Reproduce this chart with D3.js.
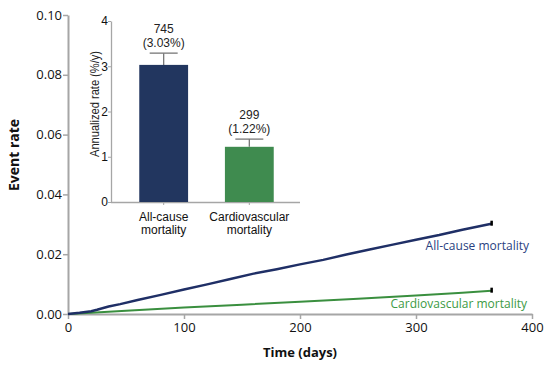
<!DOCTYPE html>
<html>
<head>
<meta charset="utf-8">
<script src="https://cdn.jsdelivr.net/npm/d3@7"></script>
<style>
  body { margin:0; background:#fff; }
  .main text { font-family:"Open Sans", "DejaVu Sans", sans-serif; }
  .inset text { font-family:"Liberation Sans", Arial, sans-serif; }
</style>
</head>
<body>
<div id="chart"></div>
<script>
// =====================================================================
// data
var allCause = [[0,0],[10,0.0004],[20,0.0009],[25,0.0014],[35,0.0025],[45,0.0033],[60,0.0047],
                [80,0.0064],[100,0.0082],[120,0.0099],[140,0.0117],[160,0.0135],[180,0.0150],
                [200,0.0166],[220,0.0181],[240,0.0199],[260,0.0216],[280,0.0232],[300,0.0248],
                [320,0.0264],[340,0.0282],[365,0.0302]];
var cvMortality = [[0,0],[20,0.0004],[50,0.0011],[100,0.0022],[150,0.0031],[200,0.0041],
                   [250,0.0051],[300,0.0062],[340,0.0071],[365,0.0078]];
var barCats = ["All-cause mortality", "Cardiovascular mortality"];
var barLabels = [["All-cause","mortality"], ["Cardiovascular","mortality"]];
var barValues = [3.03, 1.22];
var barErrors = [3.29, 1.39];
var barCounts = ["745", "299"];
var barPcts = ["(3.03%)", "(1.22%)"];
var xTicks = [0, 100, 200, 300, 400];
var yTicks = [0, 0.02, 0.04, 0.06, 0.08, 0.10];
var insetTicks = [0, 1, 2, 3, 4];
var blue = "#1f2f66", green = "#3a8f3f", barBlue = "#22365f", barGreen = "#3f8b4f", grey = "#a6a6a6";
// =====================================================================

var svg = d3.select("#chart").append("svg")
    .attr("width", 550).attr("height", 367);

var x = d3.scaleLinear().domain([0, 400]).range([68, 532]);
var y = d3.scaleLinear().domain([0, 0.10]).range([314, 15]);

var g = svg.append("g").attr("class", "main");

// y axis
var yAxis = g.append("g").attr("transform", "translate(68,0)")
    .call(d3.axisLeft(y).tickValues(yTicks).tickFormat(d3.format(".2f")).tickSize(5).tickSizeOuter(0));
// x axis
var xAxis = g.append("g").attr("transform", "translate(0,314)")
    .call(d3.axisBottom(x).tickValues(xTicks).tickSize(5).tickSizeOuter(0));

[yAxis, xAxis].forEach(function(a){
    a.select(".domain").attr("stroke", grey).attr("stroke-width", 2);
    a.selectAll(".tick line").attr("stroke", grey).attr("stroke-width", 1.5);
    a.selectAll(".tick text").attr("fill", "#111").style("font-size", "13px");
});
yAxis.selectAll(".tick text").attr("x", -6);
xAxis.selectAll(".tick text").attr("y", 9);

// axis titles
g.append("text").text("Time (days)")
    .attr("x", 300).attr("y", 357).attr("text-anchor", "middle")
    .style("font-size", "13px").style("font-weight", "bold").attr("fill", "#111");
g.append("text").text("Event rate")
    .attr("transform", "translate(19,155) rotate(-90)").attr("text-anchor", "middle")
    .style("font-size", "14px").style("font-weight", "bold").attr("fill", "#111");

// curves
var line = d3.line().x(function(d){ return x(d[0]); }).y(function(d){ return y(d[1]); });
g.append("path").datum(cvMortality).attr("d", line)
    .attr("fill", "none").attr("stroke", green).attr("stroke-width", 2);
g.append("path").datum(allCause).attr("d", line)
    .attr("fill", "none").attr("stroke", blue).attr("stroke-width", 2.5);

// end marks
[allCause, cvMortality].forEach(function(s){
    var last = s[s.length - 1];
    g.append("rect").attr("x", x(last[0]) - 1).attr("y", y(last[1]) - 3)
        .attr("width", 2.5).attr("height", 5).attr("fill", "#000");
});

// curve labels
g.append("text").text("All-cause mortality")
    .attr("x", 529).attr("y", 250).attr("text-anchor", "end")
    .style("font-size", "12px").attr("fill", "#2a3f7f");
g.append("text").text("Cardiovascular mortality")
    .attr("x", 527).attr("y", 308).attr("text-anchor", "end")
    .style("font-size", "12px").attr("fill", "#3c9a44");

// =====================================================================
// inset bar chart
var inset = svg.append("g").attr("class", "inset");
var bx = d3.scaleBand().domain(barCats).range([111, 302]).paddingInner(0.43).paddingOuter(0.33);
var by = d3.scaleLinear().domain([0, 4]).range([202, 21]);

var iy = inset.append("g").attr("transform", "translate(111,0)")
    .call(d3.axisLeft(by).tickValues(insetTicks).tickFormat(d3.format("d")).tickSize(3).tickSizeOuter(0));
var ix = inset.append("g").attr("transform", "translate(0,202)")
    .call(d3.axisBottom(bx).tickSize(3).tickSizeOuter(0).tickFormat(""));
ix.select(".domain").attr("d", "M111,0.5H300");
[iy, ix].forEach(function(a){
    a.select(".domain").attr("stroke", grey).attr("stroke-width", 1.3);
    a.selectAll(".tick line").attr("stroke", grey);
    a.selectAll(".tick text").attr("fill", "#111").style("font-size", "12px");
});
iy.selectAll(".tick text").attr("x", -3);

inset.append("text").text("Annualized rate (%/y)")
    .attr("transform", "translate(99,104) rotate(-90)").attr("text-anchor", "middle")
    .attr("textLength", 106).attr("lengthAdjust", "spacingAndGlyphs")
    .style("font-size", "12px").attr("fill", "#222");

var colors = [barBlue, barGreen];
// error bars
barCats.forEach(function(c, i){
    var cx = bx(c) + bx.bandwidth() / 2;
    inset.append("line").attr("x1", cx).attr("x2", cx)
        .attr("y1", by(barValues[i])).attr("y2", by(barErrors[i]))
        .attr("stroke", "#777").attr("stroke-width", 1.3);
    inset.append("line").attr("x1", cx - 14).attr("x2", cx + 14)
        .attr("y1", by(barErrors[i])).attr("y2", by(barErrors[i]))
        .attr("stroke", "#777").attr("stroke-width", 1.3);
});
inset.selectAll(".bar").data(barCats).enter().append("rect")
    .attr("x", function(d){ return bx(d); })
    .attr("y", function(d, i){ return by(barValues[i]); })
    .attr("width", bx.bandwidth())
    .attr("height", function(d, i){ return by(0) - by(barValues[i]); })
    .attr("fill", function(d, i){ return colors[i]; });

// value labels
barCats.forEach(function(c, i){
    var cx = bx(c) + bx.bandwidth() / 2;
    var top = by(barErrors[i]);
    inset.append("text").text(barCounts[i]).attr("x", cx).attr("y", top - 20)
        .attr("text-anchor", "middle").style("font-size", "12px").attr("fill", "#222");
    inset.append("text").text(barPcts[i]).attr("x", cx).attr("y", top - 6)
        .attr("text-anchor", "middle").style("font-size", "12px").attr("fill", "#222");
    barLabels[i].forEach(function(t, k){
        inset.append("text").text(t).attr("x", cx).attr("y", 221 + k * 13)
            .attr("text-anchor", "middle").style("font-size", "12px").attr("fill", "#111");
    });
});
</script>
</body>
</html>
